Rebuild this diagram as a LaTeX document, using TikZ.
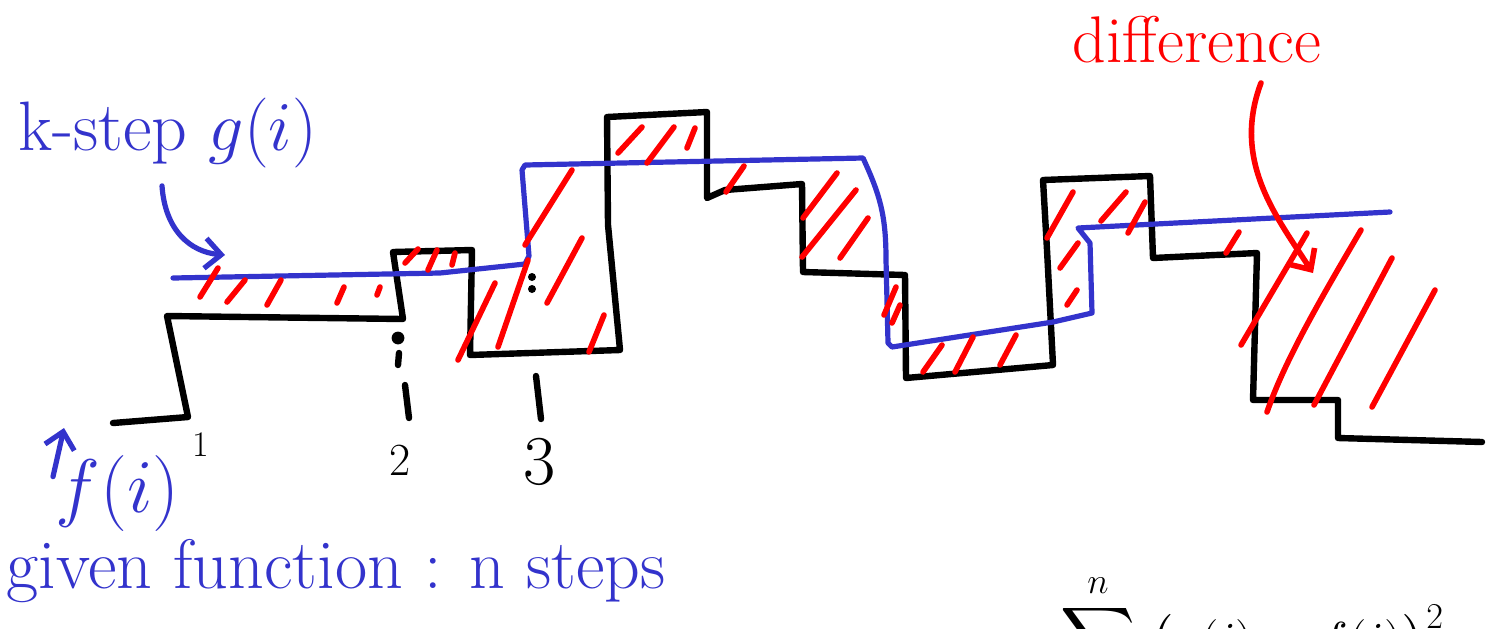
\RequirePackage{fix-cm}
\documentclass[tikz,border=0pt]{standalone}
\usepackage{amsmath,amssymb}
\usetikzlibrary{arrows.meta}
\definecolor{penblue}{RGB}{51,51,204}
\definecolor{penred}{RGB}{255,0,0}

\begin{document}
\begin{tikzpicture}[x=0.5pt,y=-0.5pt,
  fline/.style={draw=black,line width=3.2pt,line cap=round,line join=round},
  gline/.style={draw=penblue,line width=2.6pt,line cap=round,line join=round},
  hatch/.style={draw=penred,line width=2.8pt,line cap=round},
  barb/.style={-{Straight Barb[length=8pt,width=15pt]}},
  pentext/.style={inner sep=0pt,anchor=base west}]
\useasboundingbox (0,0) rectangle (1497,628);
\clip (0,0) rectangle (1497,628);
\filldraw[color=white] (0,0) rectangle (1497,628);
% Drawing the given function f (n steps)
\draw[fline] (113,423) -- (188,417) -- (167,316) -- (403,319) -- (393,252) -- (472,250)
  -- (470,355) -- (620,350) -- (608,225) -- (607,117) -- (707,112) -- (707,198)
  -- (725,190) -- (802,184) -- (803,272) -- (905,275) -- (906,378) -- (1053,365)
  -- (1047,250) -- (1043,180) -- (1150,176) -- (1153,258) -- (1257,253) -- (1253,400)
  -- (1338,400) -- (1338,438) -- (1482,442);
% Done with f; drawing the marks under it
\fill (398,338) circle (3.2pt);
\draw[fline] (399,353) -- (398,365);
\draw[fline] (405,385) -- (409,418);
\fill (532,277) circle (2pt);
\fill (532,289) circle (2pt);
\draw[fline] (536,376) -- (541,419);
% Drawing the k-step function g
\draw[gline] (173,278) -- (440,273) -- (525,264) -- (529,256) -- (522,170) -- (525,165)
  -- (863,158) .. controls (880,195) and (886,215) .. (886,260) -- (888,343)
  -- (892,347) -- (1053,322) -- (1092,313) -- (1090,243) -- (1078,228) -- (1390,212);
% Drawing the hatching between f and g
% Line 1: first step
\draw[hatch] (218,268) -- (200,297);
\draw[hatch] (245,280) -- (227,302);
\draw[hatch] (281,280) -- (267,305);
\draw[hatch] (344,287) -- (337,303);
\draw[hatch] (380,287) -- (377,295);
% Line 2: step 2
\draw[hatch] (418,249) -- (405,263);
\draw[hatch] (437,250) -- (428,270);
\draw[hatch] (455,253) -- (452,265);
% Line 3: step 3
\draw[hatch] (495,283) -- (458,360);
\draw[hatch] (528,260) -- (498,347);
\draw[hatch] (572,170) -- (525,245);
\draw[hatch] (582,238) -- (547,303);
\draw[hatch] (604,315) -- (589,352);
% Line 4: top step
\draw[hatch] (642,127) -- (618,153);
\draw[hatch] (674,127) -- (647,163);
\draw[hatch] (695,128) -- (687,148);
% Line 5: under the long blue step
\draw[hatch] (744,166) -- (726,192);
\draw[hatch] (837,173) -- (803,218);
\draw[hatch] (856,190) -- (802,257);
\draw[hatch] (868,218) -- (840,258);
% Line 6: low blue step
\draw[hatch] (896,287) -- (884,315);
\draw[hatch] (900,305) -- (892,323);
\draw[hatch] (942,345) -- (923,372);
\draw[hatch] (973,337) -- (955,372);
\draw[hatch] (1016,335) -- (1000,365);
% Line 7: high black step
\draw[hatch] (1073,192) -- (1047,238);
\draw[hatch] (1078,243) -- (1060,268);
\draw[hatch] (1077,290) -- (1067,305);
\draw[hatch] (1126,192) -- (1101,221);
\draw[hatch] (1145,202) -- (1128,233);
% Line 8: right end
\draw[hatch] (1239,232) -- (1226,253);
\draw[hatch] (1307,233) -- (1241,345);
\draw[hatch] (1361,230) .. controls (1320,300) and (1285,360) .. (1267,412);
\draw[hatch] (1392,258) -- (1314,405);
\draw[hatch] (1435,290) -- (1372,407);
% Done with hatching; drawing labels
\node[pentext,text=penblue,font=\fontsize{35}{40}\selectfont] (kstep) at (18,150) {k-step $g(i)$};
\node[pentext,text=penblue,font=\fontsize{38}{42}\selectfont] (fi) at (55,512) {$f(i)$};
\node[pentext,text=penblue,font=\fontsize{35}{40}\selectfont] (given) at (6,588) {given function : n steps};
\node[pentext,text=penred,font=\fontsize{33}{38}\selectfont] (diff) at (1072,62) {difference};
\node[font=\fontsize{18}{20}\selectfont] (lab1) at (201,445) {1};
\node[font=\fontsize{23}{26}\selectfont] (lab2) at (400,460) {2};
\node[font=\fontsize{35}{38}\selectfont] (lab3) at (540,462) {3};
\node[inner sep=0pt,anchor=north west,font=\fontsize{26}{30}\selectfont] (sumfg) at (1060,572)
  {$\displaystyle\sum_{i=1}^{n} \;\bigl(g(i) - f(i)\bigr)^2$};
% Drawing the arrows
\coordinate (gpt) at (225,255);
\coordinate (fpt) at (64,428);
\coordinate (diffpt) at (1313,273);
\draw[gline,barb] ([xshift=72pt,yshift=-9pt]kstep.south west) .. controls (165,230) and (190,252) .. (gpt);
\draw[gline,barb] ([xshift=-1pt,yshift=-11pt]fi.north west) -- (fpt);
\draw[hatch,barb] ([xshift=32pt,yshift=-10pt]diff.south) .. controls (1232,160) and (1275,215) .. (diffpt);
\end{tikzpicture}
\end{document}
